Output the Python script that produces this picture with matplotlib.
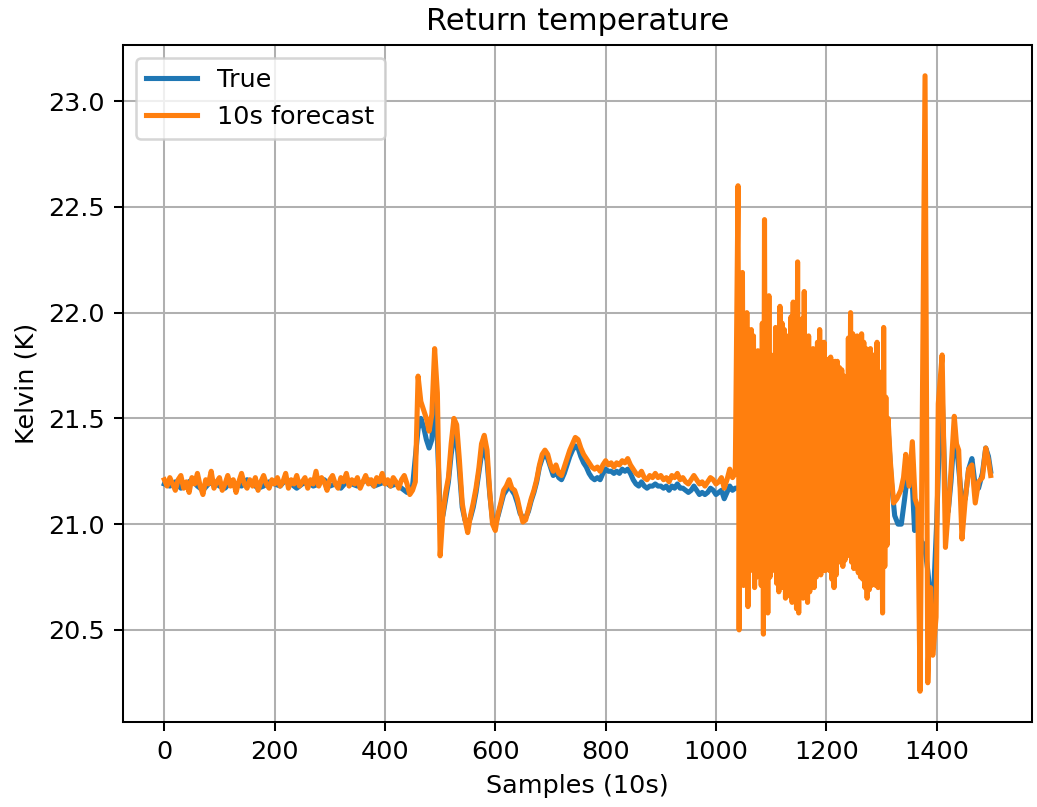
import numpy as np
import matplotlib
matplotlib.use("Agg")
import matplotlib.pyplot as plt

# true return temperature in segments (start sample, step)
true_calm = [21.19, 21.18, 21.20, 21.17, 21.19, 21.21, 21.18, 21.16, 21.19, 21.20,
             21.18, 21.17, 21.20, 21.19, 21.18, 21.21, 21.19, 21.17, 21.18, 21.20,
             21.19, 21.18, 21.21, 21.19, 21.17, 21.19, 21.20, 21.18, 21.19, 21.21,
             21.18, 21.19, 21.17, 21.20, 21.19, 21.18, 21.20, 21.21, 21.18, 21.19,
             21.20, 21.18, 21.19, 21.17, 21.15, 21.18]
true_mid = [21.45, 21.50, 21.46, 21.40, 21.36, 21.40, 21.60, 21.40, 21.06, 21.04,
            21.12, 21.20, 21.33, 21.42, 21.40, 21.25, 21.08, 21.02, 21.00, 21.03,
            21.08, 21.15, 21.24, 21.33, 21.36, 21.30, 21.14, 21.02, 21.00, 21.04,
            21.09, 21.14, 21.16, 21.19, 21.16, 21.14, 21.10, 21.05, 21.03, 21.03,
            21.06, 21.11, 21.15, 21.20, 21.27, 21.31, 21.33, 21.31, 21.27, 21.23,
            21.25, 21.22, 21.21, 21.24, 21.28, 21.32, 21.35, 21.37, 21.36, 21.32,
            21.29, 21.27, 21.24, 21.22, 21.21, 21.22, 21.21, 21.24, 21.26, 21.25,
            21.25, 21.24, 21.25, 21.24, 21.26, 21.25, 21.26, 21.24, 21.21, 21.19,
            21.18, 21.20, 21.18, 21.17, 21.18, 21.18, 21.19, 21.18, 21.18, 21.17,
            21.18, 21.16, 21.18, 21.17, 21.19, 21.17, 21.17, 21.16, 21.15, 21.16,
            21.18, 21.16, 21.14, 21.15, 21.14, 21.15, 21.17, 21.16, 21.14, 21.15,
            21.16, 21.12, 21.15, 21.18, 21.16, 21.17]
true_block = [21.17, 21.20, 21.25, 21.18, 21.10, 21.15, 21.22, 21.28, 21.20, 21.12,
              21.18, 21.25, 21.30, 21.22, 21.15, 21.20, 21.27, 21.32, 21.25, 21.18,
              21.22, 21.28, 21.33, 21.26, 21.20, 21.30, 21.42, 21.48]
true_tail_samples = [1312, 1318, 1324, 1330, 1336, 1342, 1348, 1354, 1360, 1366,
                     1372, 1378, 1384, 1390, 1395, 1400, 1405, 1410, 1416, 1421,
                     1426, 1432, 1438, 1446, 1452, 1458, 1464, 1470, 1476, 1483,
                     1489, 1494, 1498]
true_tail = [21.45, 21.20, 21.04, 21.00, 21.00, 21.12, 21.25, 21.30, 20.97, 21.00,
             20.92, 20.90, 20.78, 20.62, 20.70, 21.00, 21.40, 21.62, 21.10, 21.06,
             21.20, 21.43, 21.32, 21.10, 21.12, 21.26, 21.31, 21.18, 21.17, 21.24,
             21.36, 21.32, 21.25]

# 10 s forecast
fc_calm = [21.21, 21.18, 21.22, 21.19, 21.16, 21.21, 21.23, 21.17, 21.20, 21.15,
           21.22, 21.19, 21.24, 21.18, 21.14, 21.21, 21.19, 21.25, 21.17, 21.20,
           21.22, 21.16, 21.19, 21.23, 21.18, 21.21, 21.15, 21.20, 21.24, 21.19,
           21.17, 21.21, 21.18, 21.22, 21.16, 21.20, 21.23, 21.19, 21.17, 21.21,
           21.19, 21.22, 21.18, 21.20, 21.24, 21.17, 21.21, 21.19, 21.23, 21.18,
           21.20, 21.22, 21.17, 21.21, 21.19, 21.25, 21.18, 21.22, 21.20, 21.16,
           21.21, 21.23, 21.19, 21.17, 21.22, 21.20, 21.24, 21.18, 21.21, 21.19,
           21.22, 21.17, 21.20, 21.23, 21.19, 21.21, 21.18, 21.22, 21.20, 21.24,
           21.19, 21.21, 21.18, 21.22, 21.20, 21.17, 21.21, 21.23, 21.19, 21.14,
           21.16, 21.20]
fc_mid = [21.70, 21.58, 21.54, 21.50, 21.44, 21.52, 21.83, 21.62, 20.85, 21.05,
          21.15, 21.22, 21.38, 21.50, 21.47, 21.30, 21.10, 21.02, 20.96, 21.04,
          21.10, 21.17, 21.26, 21.38, 21.42, 21.35, 21.15, 21.00, 20.97, 21.05,
          21.10, 21.16, 21.18, 21.21, 21.17, 21.16, 21.12, 21.06, 21.01, 21.02,
          21.07, 21.12, 21.16, 21.21, 21.28, 21.33, 21.35, 21.33, 21.28, 21.25,
          21.28, 21.24, 21.23, 21.27, 21.31, 21.35, 21.38, 21.41, 21.40, 21.36,
          21.33, 21.31, 21.29, 21.27, 21.26, 21.27, 21.25, 21.28, 21.30, 21.28,
          21.29, 21.27, 21.29, 21.28, 21.30, 21.29, 21.31, 21.28, 21.26, 21.24,
          21.23, 21.25, 21.22, 21.21, 21.23, 21.22, 21.24, 21.22, 21.23, 21.21,
          21.22, 21.20, 21.23, 21.22, 21.24, 21.21, 21.22, 21.20, 21.19, 21.21,
          21.23, 21.21, 21.19, 21.20, 21.18, 21.20, 21.22, 21.21, 21.19, 21.20,
          21.22, 21.17, 21.21, 21.26, 21.22, 21.24]
# unstable stretch: forecast swings between these highs and lows
fc_block_hi = [22.60, 21.90, 22.19, 21.95, 22.00, 21.85, 21.92, 21.89, 21.80, 21.82,
               21.75, 21.95, 22.44, 21.90, 22.08, 21.80, 21.73, 21.93, 21.85, 22.03,
               21.95, 21.92, 21.89, 21.80, 21.98, 22.05, 21.90, 22.24, 21.88, 21.97,
               22.10, 21.85, 21.89, 21.80, 21.83, 21.78, 21.86, 21.92, 21.80, 21.86,
               21.75, 21.78, 21.79, 21.76, 21.77, 21.77, 21.74, 21.73, 21.70, 21.65,
               21.88, 22.00, 21.90, 21.85, 21.89, 21.80, 21.90, 21.86, 21.83, 21.75,
               21.83, 21.80, 21.78, 21.86, 21.72, 21.65, 21.93, 21.60]
fc_block_lo = [20.50, 20.80, 20.71, 20.75, 20.61, 20.78, 20.84, 20.70, 20.75, 20.80,
               20.71, 20.48, 20.62, 20.58, 20.75, 20.78, 20.83, 20.72, 20.68, 20.74,
               20.70, 20.65, 20.72, 20.66, 20.63, 20.68, 20.60, 20.58, 20.66, 20.65,
               20.70, 20.63, 20.68, 20.72, 20.70, 20.75, 20.80, 20.76, 20.83, 20.78,
               20.80, 20.78, 20.74, 20.70, 20.76, 20.82, 20.86, 20.80, 20.83, 20.85,
               20.87, 20.82, 20.79, 20.80, 20.77, 20.75, 20.74, 20.70, 20.65, 20.69,
               20.71, 20.73, 20.71, 20.70, 20.75, 20.58, 20.80, 20.90]
fc_tail_samples = [1312, 1316, 1322, 1328, 1335, 1340, 1344, 1350, 1356, 1361,
                   1366, 1370, 1379, 1384, 1389, 1393, 1399, 1403, 1410, 1416,
                   1421, 1426, 1432, 1436, 1440, 1446, 1452, 1458, 1464, 1470,
                   1476, 1483, 1489, 1494, 1498]
fc_tail = [21.50, 21.30, 21.10, 21.12, 21.16, 21.22, 21.33, 21.18, 21.39, 21.12,
           21.08, 20.21, 23.12, 20.25, 20.70, 20.38, 20.56, 21.57, 21.80, 20.89,
           21.06, 21.25, 21.51, 21.38, 21.35, 20.93, 21.12, 21.26, 21.28, 21.10,
           21.20, 21.22, 21.36, 21.30, 21.23]


def seg(start, step, vals):
    return start + step * np.arange(len(vals))


t_x = np.concatenate([seg(0, 10, true_calm), seg(460, 5, true_mid),
                      seg(1040, 10, true_block), true_tail_samples])
t_y = np.concatenate([true_calm, true_mid, true_block, true_tail])

blk_x = np.ravel(np.column_stack([seg(1040, 4, fc_block_hi), seg(1042, 4, fc_block_lo)]))
blk_y = np.ravel(np.column_stack([fc_block_hi, fc_block_lo]))
f_x = np.concatenate([seg(0, 5, fc_calm), seg(460, 5, fc_mid), blk_x, fc_tail_samples])
f_y = np.concatenate([fc_calm, fc_mid, blk_y, fc_tail])

dpi = 183.3
fig = plt.figure(figsize=(1037 / dpi, 807 / dpi), dpi=dpi)
ax = fig.add_axes([123 / 1037, 85 / 807, 909 / 1037, 677 / 807])
ax.plot(t_x, t_y, lw=2.0, label="True")
ax.plot(f_x, f_y, lw=2.0, label="10s forecast")
ax.set_title("Return temperature")
ax.set_xlabel("Samples (10s)")
ax.set_ylabel("Kelvin (K)")
ax.grid(True)
ax.legend(loc="upper left")
fig.savefig("out.png", dpi=dpi)
